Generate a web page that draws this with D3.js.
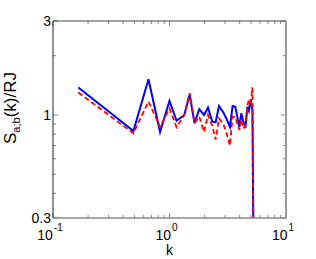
<!DOCTYPE html>
<head>
  <script src="https://d3js.org/d3.v7.min.js"></script>
  <style>
    body { margin: 0; background: #fff; }
    text { font-family: "Liberation Sans", Arial, sans-serif; fill: #000; }
  </style>
</head>
<body>
  <svg id="chart"></svg>
<script>

    // shared k grid
    var kValues = [0.165, 0.49, 0.66, 0.83, 1.0, 1.15, 1.34, 1.49, 1.64, 1.80, 1.98, 2.14, 2.33, 2.49,
                   2.66, 2.9, 3.10, 3.30, 3.48, 3.67, 3.98, 4.13, 4.30, 4.48, 4.66, 4.80, 4.98, 5.15, 5.31];
    var blueValues = [1.38, 0.83, 1.52, 0.82, 1.18, 0.935, 1.0, 1.27, 0.91, 1.07, 1.0, 1.09, 0.925, 0.92,
                      1.11, 1.03, 0.95, 0.87, 1.11, 1.10, 0.87, 1.02, 0.925, 0.86, 1.10, 1.05, 1.2, 1.06, 0.1];
    var redValues = [1.30, 0.807, 1.17, 0.87, 1.08, 0.866, 1.0, 1.29, 0.91, 0.98, 0.82, 1.0, 0.88, 0.75,
                     0.96, 0.9, 0.8, 0.70, 0.98, 0.98, 0.84, 0.95, 0.85, 0.88, 1.12, 1.19, 1.15, 1.38, 0.1];
    var yTicks = [0.3, 1, 3];
    var xTicks = [0.1, 1, 10];

    var width = 316, height = 259;
    var mLeft = 53, mRight = 286, mTop = 21, mBottom = 218;

    var svg = d3.select('#chart')
      .attr('width', width)
      .attr('height', height);

    var x = d3.scaleLog().domain([0.1, 10]).range([mLeft, mRight]);
    var y = d3.scaleLog().domain([0.3, 3]).range([mBottom, mTop]);

    svg.append('clipPath').attr('id', 'clip')
      .append('rect')
      .attr('x', mLeft).attr('y', mTop)
      .attr('width', mRight - mLeft).attr('height', mBottom - mTop);

    // minor + major ticks, inward on all sides
    var xMinor = [];
    [0.1, 1].forEach(function (d) { for (var i = 1; i <= 9; i++) xMinor.push(d * i); });
    xMinor.push(10);
    var yMinor = [0.3, 0.4, 0.5, 0.6, 0.7, 0.8, 0.9, 1, 2, 3];

    var ticks = svg.append('g').attr('stroke', '#666').attr('stroke-width', 0.8);
    xMinor.forEach(function (d) {
      var len = xTicks.indexOf(d) >= 0 ? 5 : 3;
      ticks.append('line').attr('x1', x(d)).attr('x2', x(d)).attr('y1', mBottom).attr('y2', mBottom - len);
      ticks.append('line').attr('x1', x(d)).attr('x2', x(d)).attr('y1', mTop).attr('y2', mTop + len);
    });
    yMinor.forEach(function (d) {
      var len = yTicks.indexOf(d) >= 0 ? 5 : 3;
      ticks.append('line').attr('y1', y(d)).attr('y2', y(d)).attr('x1', mLeft).attr('x2', mLeft + len);
      ticks.append('line').attr('y1', y(d)).attr('y2', y(d)).attr('x1', mRight).attr('x2', mRight - len);
    });

    // data lines
    var line = d3.line()
      .x(function (d) { return x(d[0]); })
      .y(function (d) { return y(d[1]); });

    var plot = svg.append('g').attr('clip-path', 'url(#clip)');

    plot.append('path')
      .datum(d3.zip(kValues, blueValues))
      .attr('d', line)
      .attr('fill', 'none')
      .attr('stroke', '#0000ff')
      .attr('stroke-width', 2)
      .attr('stroke-linejoin', 'miter');

    plot.append('path')
      .datum(d3.zip(kValues, redValues))
      .attr('d', line)
      .attr('fill', 'none')
      .attr('stroke', '#ff0000')
      .attr('stroke-width', 1.8)
      .attr('stroke-dasharray', '5,3');

    // box
    svg.append('line').attr('x1', mLeft).attr('x2', mRight).attr('y1', mTop).attr('y2', mTop)
      .attr('stroke', '#444').attr('stroke-width', 1);
    svg.append('line').attr('x1', mLeft).attr('x2', mLeft).attr('y1', mTop).attr('y2', mBottom)
      .attr('stroke', '#222').attr('stroke-width', 1);
    svg.append('line').attr('x1', mLeft).attr('x2', mRight).attr('y1', mBottom).attr('y2', mBottom)
      .attr('stroke', '#888').attr('stroke-width', 1.5);
    svg.append('line').attr('x1', mRight).attr('x2', mRight).attr('y1', mTop).attr('y2', mBottom + 0.7)
      .attr('stroke', '#999').attr('stroke-width', 2);

    // y tick labels
    svg.selectAll('.ylab')
      .data(yTicks)
      .enter().append('text')
      .attr('class', 'ylab')
      .attr('x', mLeft - 2)
      .attr('y', function (d) { return y(d); })
      .attr('dy', '0.36em')
      .attr('text-anchor', 'end')
      .style('font-size', '14px')
      .text(function (d) { return d; });

    // x tick labels 10^n
    var xl = svg.selectAll('.xlab')
      .data(xTicks)
      .enter().append('text')
      .attr('class', 'xlab')
      .attr('x', function (d) { return x(d) - 3; })
      .attr('y', 240)
      .attr('text-anchor', 'middle')
      .style('font-size', '14px');
    xl.append('tspan').text('10');
    xl.append('tspan')
      .attr('dy', -9)
      .attr('dx', 1)
      .style('font-size', '10px')
      .text(function (d) { return Math.round(Math.log10(d)); });

    // axis titles
    svg.append('text')
      .attr('x', x(1))
      .attr('y', 255)
      .attr('text-anchor', 'middle')
      .style('font-size', '14px')
      .text('k');

    var yt = svg.append('text')
      .attr('transform', 'translate(16,' + 108 + ')rotate(-90)')
      .attr('text-anchor', 'middle')
      .style('font-size', '17px');
    yt.append('tspan').text('S');
    yt.append('tspan').attr('dy', 4).style('font-size', '11px').text('a;b');
    yt.append('tspan').attr('dy', -4).text('(k)/RJ');

</script>
</body>
